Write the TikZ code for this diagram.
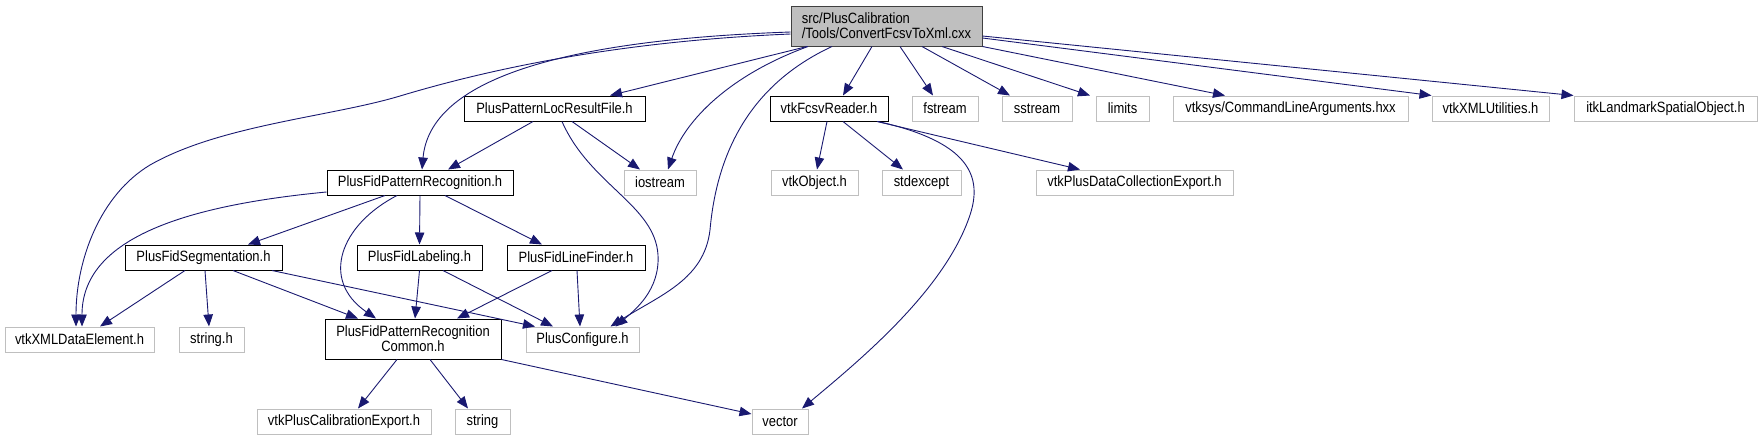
\documentclass[tikz,border=0pt]{standalone}
\usepackage{xcolor}
\usepackage{fontspec}
\setmainfont{Liberation Sans}[FakeStretch=0.87]
\usetikzlibrary{arrows.meta}

\definecolor{edgeblue}{HTML}{191970}
\definecolor{extgray}{HTML}{BFBFBF}
\definecolor{rootgray}{HTML}{BFBFBF}
\definecolor{rootline}{HTML}{404040}

\begin{document}
\begin{tikzpicture}
	[x=1pt,y=-1pt,font=\fontsize{14.9}{15}\selectfont,
	file/.style={draw=black,line width=1pt,minimum height=25pt,inner sep=3pt},
	ext/.style={draw=extgray,line width=1pt,minimum height=25pt,inner sep=3pt},
	rootfile/.style={draw=rootline,fill=rootgray,line width=1pt,align=left,minimum width=191,minimum height=40},
	dep/.style={draw=edgeblue,line width=0.9pt,-{Triangle[length=12pt,width=9.5pt]}}]

	\useasboundingbox (0,0) rectangle (1762,440);

	\node[rootfile] (root) at (886.5,26) {src/PlusCalibration\\/Tools/ConvertFcsvToXml.cxx};

	\node[file,minimum width=181] (plrf) at (554.5,108.5) {PlusPatternLocResultFile.h};
	\node[file,minimum width=118] (fcsv) at (829,108.5) {vtkFcsvReader.h};
	\node[ext,minimum width=66] (fstream) at (945,108.5) {fstream};
	\node[ext,minimum width=70] (sstream) at (1037,108.5) {sstream};
	\node[ext,minimum width=53] (limits) at (1122.5,108.5) {limits};
	\node[ext,minimum width=235] (cmdargs) at (1290.5,108.5) {vtksys/CommandLineArguments.hxx};
	\node[ext,minimum width=117] (xmlutil) at (1490.5,108.5) {vtkXMLUtilities.h};
	\node[ext,minimum width=183] (landmark) at (1665.5,108.5) {itkLandmarkSpatialObject.h};

	\node[file,minimum width=186] (pfpr) at (420,182.5) {PlusFidPatternRecognition.h};
	\node[ext,minimum width=72] (iostream) at (660,182.5) {iostream};
	\node[ext,minimum width=87] (vtkobj) at (814.5,182.5) {vtkObject.h};
	\node[ext,minimum width=79] (stdexcept) at (921.5,182.5) {stdexcept};
	\node[ext,minimum width=197] (dcexport) at (1134.5,182.5) {vtkPlusDataCollectionExport.h};

	\node[file,minimum width=157] (seg) at (203.5,257.5) {PlusFidSegmentation.h};
	\node[file,minimum width=125] (label) at (419.5,257.5) {PlusFidLabeling.h};
	\node[file,minimum width=138] (linefind) at (576,257.5) {PlusFidLineFinder.h};

	\node[ext,minimum width=149] (xmlde) at (79.5,339.5) {vtkXMLDataElement.h};
	\node[ext,minimum width=65] (stringh) at (211.5,339.5) {string.h};
	\node[file,minimum width=176,minimum height=40,align=center] (common) at (413,339) {PlusFidPatternRecognition\\Common.h};
	\node[ext,minimum width=113] (config) at (582.5,339.5) {PlusConfigure.h};

	\node[ext,minimum width=174] (calexport) at (344,421.5) {vtkPlusCalibrationExport.h};
	\node[ext,minimum width=55] (string) at (482.5,421.5) {string};
	\node[ext,minimum width=56] (vector) at (780,421.5) {vector};

	% includes of the cxx
	\draw[dep] ([yshift=-8]root.west) .. controls (600,42) and (470,75) .. (400,96)
		.. controls (330,117) and (220,125) .. (150,165)
		.. controls (100,195) and (76,260) .. ([xshift=-3.5]xmlde.north);
	\draw[dep] ([yshift=-6]root.west) .. controls (560,40) and (430,80) .. ([xshift=2]pfpr.north);
	\draw[dep] ([xshift=-78.5]root.south) .. controls (730,75) and (685,120) .. ([xshift=8]iostream.north);
	\draw[dep] ([xshift=-54.5]root.south) .. controls (760,80) and (718,140) .. (710,230)
		.. controls (704,280) and (660,295) .. ([xshift=28]config.north);
	\path ([xshift=-79.5]root.south) edge[dep] ([xshift=55.5]plrf.north);
	\path ([xshift=-14.5]root.south) edge[dep] ([xshift=14]fcsv.north);
	\path ([xshift=13.5]root.south) edge[dep] ([xshift=-12]fstream.north);
	\path ([xshift=35.5]root.south) edge[dep] ([xshift=-27]sstream.north);
	\path ([xshift=55.5]root.south) edge[dep] ([xshift=-32.5]limits.north);
	\path (root.south east) edge[dep] ([xshift=-65.5]cmdargs.north);
	\path ([yshift=-12]root.east) edge[dep] (xmlutil.north west);
	\path ([yshift=-10]root.east) edge[dep] (landmark.north west);

	\path ([xshift=-21.5]plrf.south) edge[dep] ([xshift=28]pfpr.north);
	\path ([xshift=17.5]plrf.south) edge[dep] ([xshift=-20]iostream.north);
	\draw[dep] ([xshift=7.5]plrf.south) .. controls (590,185) and (655,205) .. (658,255)
		.. controls (660,290) and (635,310) .. ([xshift=33]config.north);

	\path ([xshift=-2]fcsv.south) edge[dep] ([xshift=2.5]vtkobj.north);
	\path ([xshift=14]fcsv.south) edge[dep] ([xshift=-18.5]stdexcept.north);
	\path ([xshift=48]fcsv.south) edge[dep] ([xshift=-54.5]dcexport.north);
	\draw[dep] ([xshift=49]fcsv.south) .. controls (960,140) and (985,170) .. (970,215)
		.. controls (945,290) and (860,360) .. ([xshift=22]vector.north);

	\draw[dep] ([yshift=-9.5]pfpr.west) .. controls (180,206) and (82,240) .. ([xshift=2.5]xmlde.north);
	\draw[dep] ([xshift=-23]pfpr.south) .. controls (340,225) and (320,280) .. ([xshift=-37]common.north);
	\path ([xshift=-35]pfpr.south) edge[dep] ([xshift=44.5]seg.north);
	\path (pfpr.south) edge[dep] (label.north);
	\path ([xshift=25]pfpr.south) edge[dep] ([xshift=-34]linefind.north);

	\path ([xshift=-18.5]seg.south) edge[dep] ([xshift=20.5]xmlde.north);
	\path ([xshift=1.5]seg.south) edge[dep] ([xshift=-2.5]stringh.north);
	\path ([xshift=29.5]seg.south) edge[dep] ([xshift=-55]common.north);
	\path ([xshift=68.5]seg.south) edge[dep] ([xshift=-47.5]config.north);
	\path (label.south) edge[dep] ([xshift=2]common.north);
	\path ([xshift=23.5]label.south) edge[dep] ([xshift=-29.5]config.north);
	\path ([xshift=-24]linefind.south) edge[dep] ([xshift=44]common.north);
	\path ([xshift=1]linefind.south) edge[dep] ([xshift=-2.5]config.north);

	\path ([xshift=-16]common.south) edge[dep] ([xshift=14]calexport.north);
	\path ([xshift=17]common.south) edge[dep] ([xshift=-14.5]string.north);
	\path (common.south east) edge[dep] ([yshift=7.5]vector.west);
\end{tikzpicture}
\end{document}
